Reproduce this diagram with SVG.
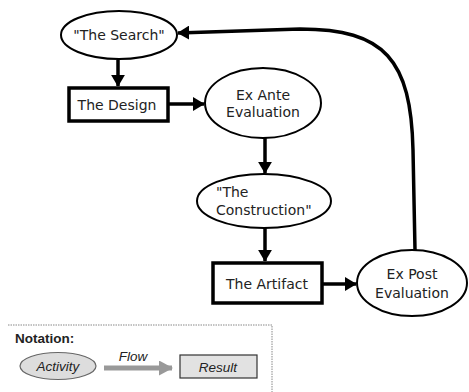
<svg xmlns="http://www.w3.org/2000/svg" width="469" height="392" viewBox="0 0 469 392">
<style>
.n{fill:#fff;stroke:#000;stroke-width:2}
.b{fill:#fff;stroke:#000;stroke-width:3.5}
.t{font-family:"DejaVu Sans",sans-serif;font-size:14px;fill:#222;text-anchor:middle}
.c{fill:none;stroke:#000;stroke-width:3.5}
.g{font-family:"Liberation Sans",Arial,sans-serif;font-size:13.5px;fill:#222}
</style>
<defs>
<marker id="ah" markerWidth="4" markerHeight="4" refX="3.2" refY="2" orient="auto" markerUnits="strokeWidth"><path d="M0,0 L3.4,2 L0,4 Z" fill="#000"/></marker>
<marker id="gh" markerWidth="3" markerHeight="3" refX="2.6" refY="1.5" orient="auto" markerUnits="strokeWidth"><path d="M0,0 L2.8,1.5 L0,3 Z" fill="#999"/></marker>
</defs>
<rect width="469" height="392" fill="#fff"/>
<g id="connectors">
<line class="c" x1="118" y1="60" x2="118" y2="86" marker-end="url(#ah)"/>
<line class="c" x1="169" y1="104" x2="204" y2="104" marker-end="url(#ah)"/>
<line class="c" x1="265" y1="138" x2="265" y2="173" marker-end="url(#ah)"/>
<line class="c" x1="265" y1="228" x2="265" y2="261" marker-end="url(#ah)"/>
<line class="c" x1="323" y1="284" x2="356" y2="284" marker-end="url(#ah)"/>
<path class="c" d="M415 250 L413 150 C411 60 385 29 300 29 L178 33" marker-end="url(#ah)"/>
</g>
<g id="search"><ellipse class="n" cx="119" cy="35" rx="58" ry="24"/><text class="t" x="119" y="40">"The Search"</text></g>
<g id="design"><rect class="b" x="69" y="88" width="99" height="33"/><text class="t" x="117" y="110">The Design</text></g>
<g id="exante"><ellipse class="n" cx="263" cy="103" rx="58" ry="35"/><text class="t" x="263" y="100">Ex Ante</text><text class="t" x="263" y="117">Evaluation</text></g>
<g id="construction"><ellipse class="n" cx="264" cy="201" rx="67" ry="27"/><text class="t" x="216" y="197" style="text-anchor:start">"The</text><text class="t" x="216" y="215" style="text-anchor:start">Construction"</text></g>
<g id="artifact"><rect class="b" x="213" y="263" width="109" height="40"/><text class="t" x="267" y="289">The Artifact</text></g>
<g id="expost"><ellipse class="n" cx="412" cy="283" rx="55" ry="33"/><text class="t" x="412" y="279">Ex Post</text><text class="t" x="412" y="298">Evaluation</text></g>
<g id="notation">
<path d="M8 325 H272 V392" fill="none" stroke="#888" stroke-width="1" stroke-dasharray="1.5 1"/>
<text class="g" x="15" y="343" font-weight="bold">Notation:</text>
<ellipse cx="58" cy="366" rx="38" ry="13.5" fill="#ddd" stroke="#666" stroke-width="1.2"/>
<text class="g" x="58" y="371" font-style="italic" text-anchor="middle">Activity</text>
<line x1="104" y1="368" x2="172" y2="368" stroke="#999" stroke-width="5" marker-end="url(#gh)"/>
<text class="g" x="133" y="361" font-style="italic" text-anchor="middle">Flow</text>
<rect x="180" y="355" width="77" height="23" fill="#e2e2e2" stroke="#333" stroke-width="1.2"/>
<text class="g" x="218" y="372" font-style="italic" text-anchor="middle">Result</text>
</g>
</svg>
